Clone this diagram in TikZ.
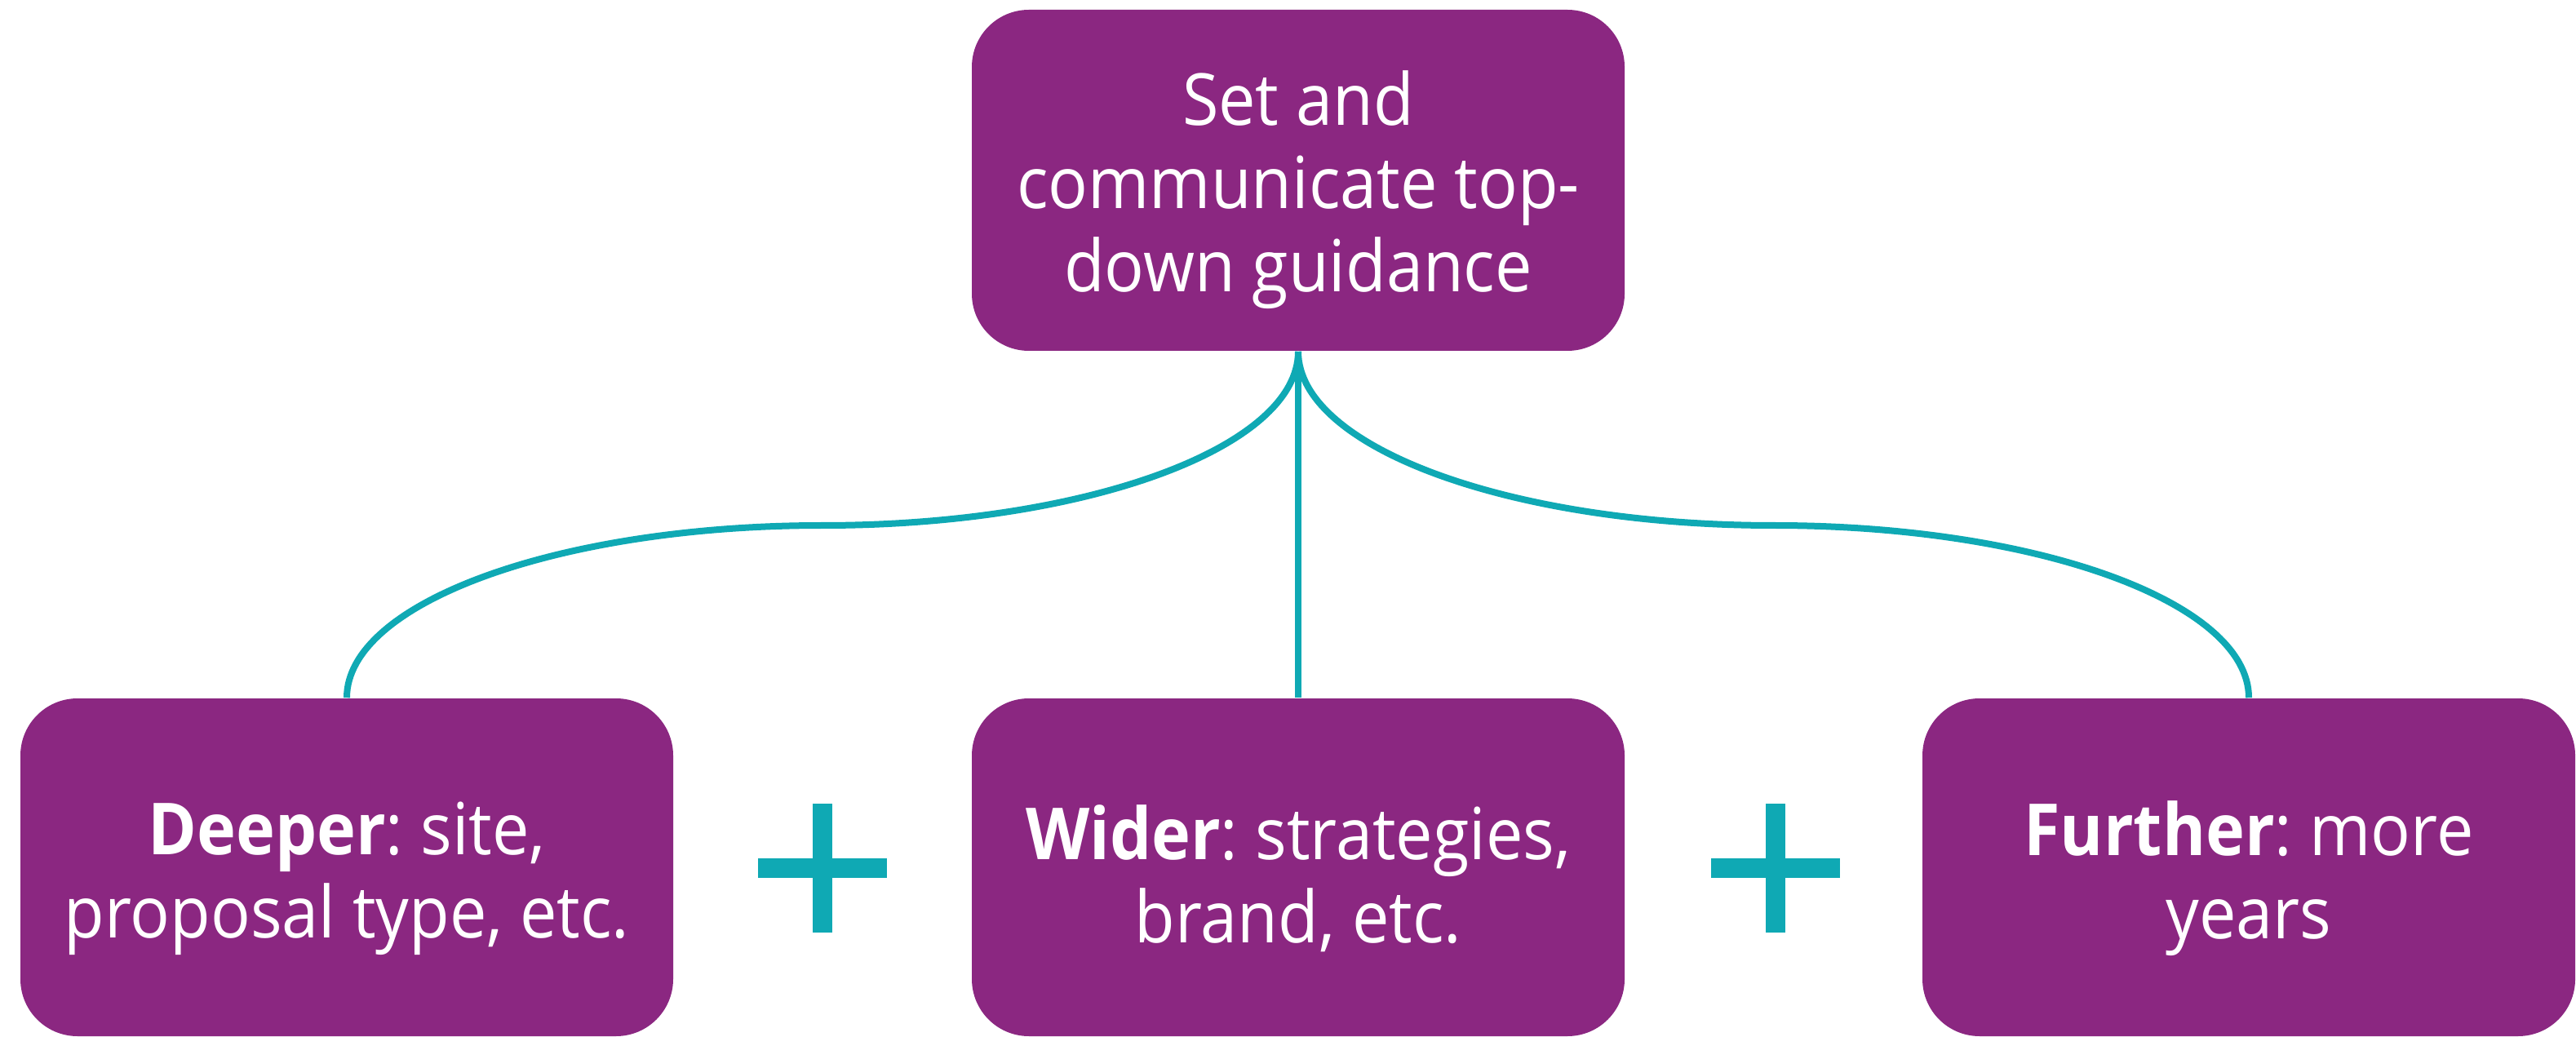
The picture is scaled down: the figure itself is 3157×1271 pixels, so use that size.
\documentclass[tikz,border=0pt]{standalone}
\usepackage{fontspec}
\setmainfont[FakeStretch=0.92]{Open Sans}
\definecolor{boxpurple}{HTML}{8B2781}
\definecolor{linkteal}{HTML}{0FA9B4}
\begin{document}
\frenchspacing
\begin{tikzpicture}[x=0.25pt,y=-0.25pt,
  card/.style={fill=boxpurple, draw=none, rounded corners=17.5pt,
    minimum width=200pt, inner sep=0pt},
  cardtext/.style={align=center, text=white,
    font=\fontsize{22}{25.5}\selectfont\frenchspacing, inner sep=0pt},
  link/.style={draw=linkteal, line width=2pt},
  plusbar/.style={fill=linkteal, draw=none}]
\useasboundingbox (0,0) rectangle (3157,1271);
\node[card, minimum height=104.5pt] (top) at (1591,221) {};
\node[card, minimum height=103.5pt] (deeper) at (425,1063) {};
\node[card, minimum height=103.5pt] (wider) at (1591,1063) {};
\node[card, minimum height=103.5pt] (further) at (2756,1063) {};
\node[cardtext] (toptext) at ([yshift=-3pt]top.center) {Set and\\communicate top-\\down guidance};
\node[cardtext] (deepertext) at ([yshift=-3.5pt]deeper.center) {\textbf{Deeper}: site,\\proposal type, etc.};
\node[cardtext] (widertext) at ([yshift=-3.5pt]wider.center) {\textbf{Wider}: strategies,\\brand, etc.};
\node[cardtext] (furthertext) at ([yshift=-3.5pt]further.center) {\textbf{Further}: more\\years};
\coordinate (lmid) at (1008,644);
\coordinate (rmid) at (2174,644);
\draw[link] (top.south) .. controls +(0,118) and +(322,0) .. (lmid)
  .. controls +(-322,0) and +(0,-117) .. (deeper.north);
\draw[link] (top.south) .. controls +(0,118) and +(-322,0) .. (rmid)
  .. controls +(322,0) and +(0,-117) .. (further.north);
\draw[link] (top.south) -- (wider.north);
\fill[plusbar] (929,1052) rectangle (1087,1076);
\fill[plusbar] (996,985) rectangle (1020,1143);
\fill[plusbar] (2097,1052) rectangle (2255,1076);
\fill[plusbar] (2164,985) rectangle (2188,1143);
\end{tikzpicture}
\end{document}
